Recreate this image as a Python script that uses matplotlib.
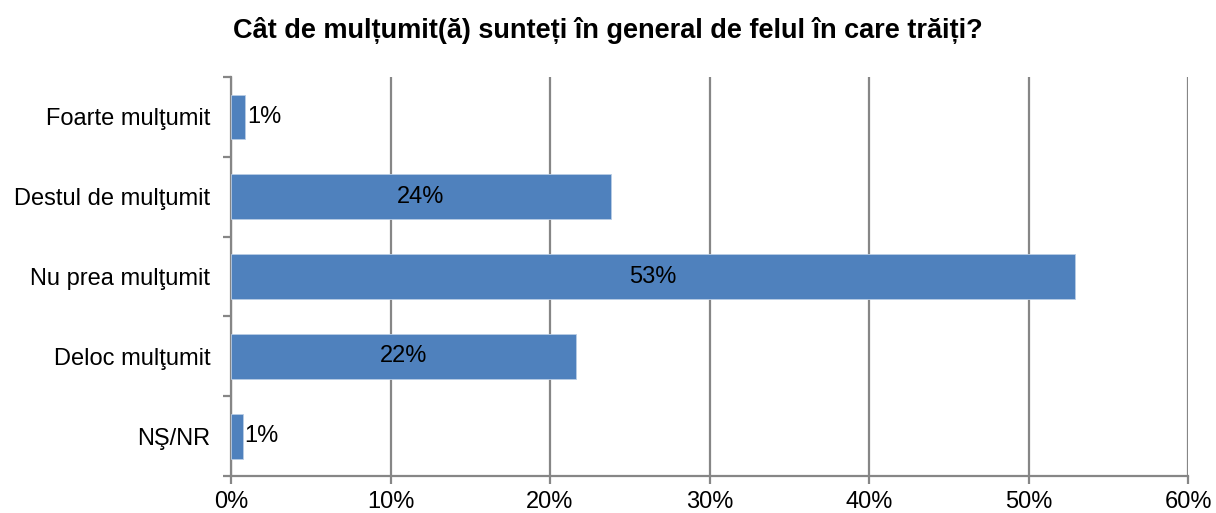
import numpy as np
import matplotlib.pyplot as plt
from matplotlib.ticker import FixedLocator, FuncFormatter

# date
categorii = ['Foarte mulţumit', 'Destul de mulţumit', 'Nu prea mulţumit',
             'Deloc mulţumit', 'NŞ/NR']
valori = [0.9, 23.8, 52.9, 21.6, 0.75]
etichete = ['1%', '24%', '53%', '22%', '1%']
titlu = 'Cât de mulțumit(ă) sunteți în general de felul în care trăiți?'

plt.rcParams['font.family'] = ['Liberation Sans', 'DejaVu Sans']
gri = '#868686'


def main():
    fig = plt.figure(figsize=(12.16, 5.13), dpi=100)
    ax = fig.add_axes([0.19, 0.072, 0.787, 0.778])

    y = np.arange(len(categorii))
    bare = ax.barh(y, valori, height=0.56, color='#4F81BD',
                   edgecolor='#B9CDE5', linewidth=0.6, zorder=3)

    # etichete: in interior (centru) pentru bare mari, in afara pentru cele mici
    for b, v, t in zip(bare, valori, etichete):
        cy = b.get_y() + b.get_height() / 2
        if v < 5:
            ax.text(v + 0.1, cy, t, va='center', ha='left', fontsize=17, zorder=4)
        else:
            ax.text(v / 2, cy, t, va='center', ha='center', fontsize=17, zorder=4)

    ax.set_xlim(0, 60)
    ax.set_ylim(len(categorii) - 0.5, -0.5)
    ax.set_xticks(np.arange(0, 61, 10))
    ax.xaxis.set_major_formatter(FuncFormatter(lambda v, p: '%d%%' % v))
    ax.set_yticks(y)
    ax.set_yticklabels(categorii)
    ax.yaxis.set_minor_locator(FixedLocator(np.arange(-0.5, len(categorii), 1)))

    ax.grid(axis='x', color=gri, linewidth=1.6, zorder=0)
    ax.tick_params(axis='x', direction='out', length=6, width=1.6, color=gri,
                   labelsize=17, pad=5)
    ax.tick_params(axis='y', which='major', length=0, labelsize=17, pad=15)
    ax.tick_params(axis='y', which='minor', direction='out', length=6,
                   width=1.6, color=gri)

    for s in ['top', 'right']:
        ax.spines[s].set_visible(False)
    for s in ['left', 'bottom']:
        ax.spines[s].set_color(gri)
        ax.spines[s].set_linewidth(1.6)

    fig.text(0.5, 0.94, titlu, ha='center', va='center', fontsize=19.5,
             fontweight='bold', family=['Liberation Sans Narrow', 'Liberation Sans'])

    plt.savefig('out.png', dpi=100)


if __name__ == '__main__':
    main()
